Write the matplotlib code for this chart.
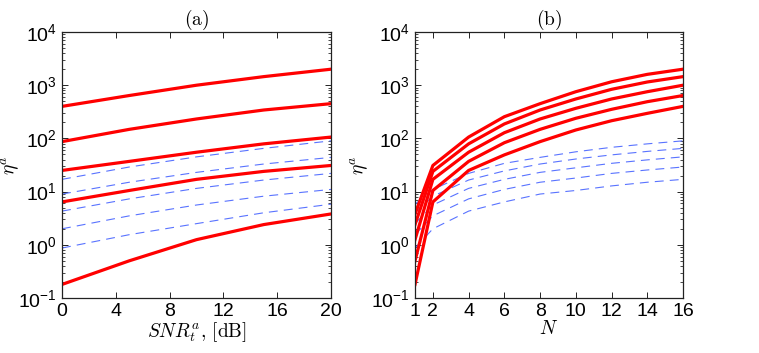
import numpy as np
import matplotlib
matplotlib.use('Agg')
import matplotlib.pyplot as plt
from matplotlib.ticker import LogLocator, NullFormatter

plt.rcParams['font.family'] = ['Liberation Sans', 'DejaVu Sans']
plt.rcParams['mathtext.fontset'] = 'cm'

# SNR values (dB) and antenna counts
snr_db = [0, 5, 10, 15, 20]
n_vals = [1, 2, 4, 6, 8, 10, 12, 14, 16]

# eta^a (red, solid): rows follow n_vals, columns follow snr_db
eta_red = [
    [0.18, 0.5, 1.25, 2.4, 3.8],
    [6.4, 10.5, 17, 24, 31],
    [25, 37, 55, 79, 106],
    [49, 83, 128, 187, 256],
    [87, 148, 232, 342, 450],
    [144, 239, 368, 551, 755],
    [215, 352, 551, 837, 1160],
    [296, 490, 755, 1150, 1600],
    [400, 640, 1000, 1450, 2000],
]

# eta^a (blue, dashed): same layout
eta_blue = [
    [0.87, 1.55, 2.5, 4.0, 5.8],
    [2.0, 3.5, 5.6, 8.2, 11],
    [4.3, 7.3, 11.5, 16.5, 22],
    [6.4, 11, 17, 24.5, 34],
    [9, 15, 23, 33, 44],
    [10.5, 18, 28, 41, 56],
    [12.8, 22, 34, 49, 68],
    [15, 25.5, 39.5, 57, 79],
    [17, 29, 45, 65, 90],
]

# curves shown in panel (a)
n_panel_a = [1, 2, 4, 8, 16]

red = (1.0, 0.0, 0.0)
blue = (0.35, 0.45, 1.0)
dash = (0, (8, 5.5))

red_arr = np.array(eta_red)
blue_arr = np.array(eta_blue)

fig = plt.figure(figsize=(7.59, 3.53), dpi=100)
ax1 = fig.add_axes([0.0817, 0.1558, 0.3544, 0.7535])
ax2 = fig.add_axes([0.5468, 0.1558, 0.3531, 0.7535])

# panel (a): curves versus SNR, one per N
for n in n_panel_a:
    i = n_vals.index(n)
    ax1.plot(snr_db, blue_arr[i], color=blue, lw=0.8, linestyle=dash)
for n in n_panel_a:
    i = n_vals.index(n)
    ax1.plot(snr_db, red_arr[i], color=red, lw=2.3)

# panel (b): curves versus N, one per SNR
for j in range(len(snr_db)):
    ax2.plot(n_vals, blue_arr[:, j], color=blue, lw=0.8, linestyle=dash)
for j in range(len(snr_db)):
    ax2.plot(n_vals, red_arr[:, j], color=red, lw=2.3)

for ax in (ax1, ax2):
    ax.set_yscale('log')
    ax.set_ylim(1e-1, 1e4)
    ax.yaxis.set_major_locator(LogLocator(base=10, numticks=10))
    ax.yaxis.set_minor_locator(LogLocator(base=10, subs=np.arange(2, 10), numticks=20))
    ax.yaxis.set_minor_formatter(NullFormatter())
    ax.tick_params(which='both', direction='in', top=True, right=True,
                   labelsize=14, colors='black')
    ax.tick_params(which='major', length=4, width=0.6)
    ax.tick_params(which='minor', length=2, width=0.5)
    for s in ax.spines.values():
        s.set_linewidth(0.9)
        s.set_color('#222222')
    ax.set_ylabel(r'$\eta^a$', fontsize=14)

ax1.yaxis.set_label_coords(-0.15, 0.5)
ax2.yaxis.set_label_coords(-0.165, 0.5)

ax1.set_xlim(0, 20)
ax1.set_xticks([0, 4, 8, 12, 16, 20])
ax1.set_xlabel(r'$SNR_t^a,\,[\mathrm{dB}]$', fontsize=14, labelpad=0)
ax1.set_title(r'$\mathrm{(a)}$', fontsize=14, pad=4)

ax2.set_xlim(1, 16)
ax2.set_xticks([1, 2, 4, 6, 8, 10, 12, 14, 16])
ax2.set_xlabel(r'$N$', fontsize=14, labelpad=0)
ax2.set_title(r'$\mathrm{(b)}$', fontsize=14, pad=4)

fig.savefig('out.png', dpi=100)
